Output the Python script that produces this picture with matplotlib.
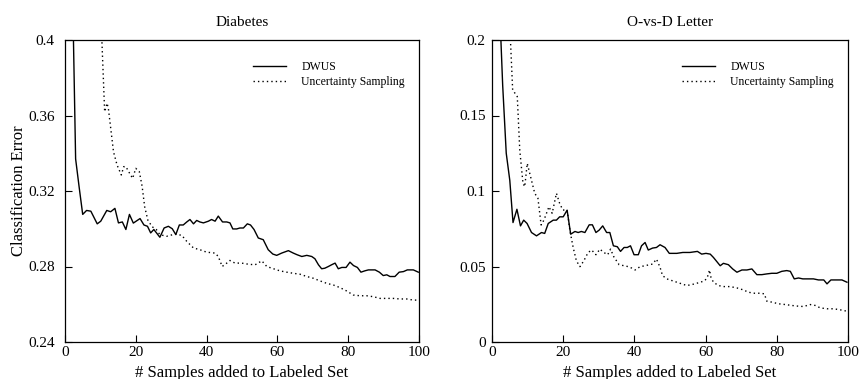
import matplotlib
matplotlib.use('Agg')
import matplotlib.pyplot as plt
from matplotlib.ticker import FuncFormatter

plt.rcParams['font.family'] = ['Liberation Serif', 'DejaVu Serif']

# Diabetes - DWUS
dia_dwus_x = [2, 3, 4, 5, 6.1, 7.3, 9.1, 10.1, 11.8, 12.9, 14.1, 15.1, 16.2, 17.2, 18.2,
              19.3, 21.2, 22.3, 23.3, 24.2, 25.1, 26.8, 28, 29.2, 30.3, 31.3, 32.3, 33.4,
              34.4, 35.3, 36.3, 37.2, 38.1, 39.1, 40.5, 41.4, 42.4, 43.3, 44.5, 45.7, 46.6,
              47.4, 48.5, 49.4, 50.4, 51.5, 52.4, 53.4, 54.6, 56, 57.4, 58.7, 59.8, 61.2,
              63.1, 64.5, 65.6, 66.9, 68.3, 69.7, 70.6, 71.6, 72.5, 73.4, 74.4, 75.3, 76.3,
              77.2, 78.2, 79.4, 80.5, 81.5, 82.6, 83.6, 84.7, 85.7, 87.6, 88.8, 89.9, 90.9,
              91.8, 93.2, 94.4, 95.6, 96.7, 98.4, 99.8]
dia_dwus_y = [0.44, 0.337, 0.322, 0.3076, 0.3097, 0.3093, 0.3026, 0.304, 0.3097, 0.309,
              0.3108, 0.3031, 0.3036, 0.2996, 0.3076, 0.303, 0.3054, 0.302, 0.3013, 0.2978,
              0.2996, 0.2955, 0.3004, 0.3013, 0.300, 0.2969, 0.302, 0.302, 0.3036, 0.3049,
              0.3026, 0.3044, 0.3036, 0.3031, 0.304, 0.3049, 0.304, 0.3067, 0.3036, 0.3036,
              0.3031, 0.2999, 0.2999, 0.3004, 0.3004, 0.3026, 0.302, 0.2996, 0.2951, 0.2942,
              0.2889, 0.2866, 0.2859, 0.2871, 0.2884, 0.2871, 0.2862, 0.2853, 0.2859, 0.2853,
              0.2841, 0.2809, 0.2788, 0.2791, 0.28, 0.2809, 0.2818, 0.2788, 0.2795, 0.2795,
              0.2823, 0.2805, 0.2795, 0.277, 0.2777, 0.2782, 0.2782, 0.277, 0.2752, 0.2756,
              0.2747, 0.2747, 0.277, 0.2773, 0.2782, 0.2782, 0.277]

# Diabetes - Uncertainty Sampling
dia_us_x = [10, 11.2, 11.9, 12.3, 13.7, 14.7, 15.9, 16.6, 17.2, 18, 19.1, 20, 21, 21.8,
            22.5, 23.4, 24.6, 25.8, 26.8, 28.7, 31.1, 33, 34.4, 36.3, 38.1, 40, 42.4, 43.3,
            44.4, 45.7, 46.6, 48, 49.9, 51.8, 53.7, 55.6, 57, 58.9, 60.7, 62.6, 64.5, 66.4,
            68.3, 70.1, 72, 73.9, 75.8, 77.7, 79.6, 81.4, 83.3, 85.2, 87.1, 89, 90.9, 92.7,
            94.6, 96.5, 98.4, 100]
dia_us_y = [0.42, 0.362, 0.3665, 0.363, 0.3408, 0.3338, 0.3285, 0.3329, 0.3329, 0.3302,
            0.3267, 0.332, 0.3302, 0.3223, 0.3117, 0.3046, 0.3011, 0.2996, 0.2969, 0.296,
            0.2972, 0.2965, 0.2933, 0.2898, 0.2889, 0.2876, 0.2871, 0.2853, 0.28, 0.2818,
            0.2832, 0.2818, 0.2818, 0.2812, 0.2809, 0.283, 0.28, 0.2788, 0.2777, 0.277,
            0.2764, 0.2759, 0.2747, 0.2738, 0.2724, 0.2711, 0.2702, 0.2688, 0.267, 0.2649,
            0.2645, 0.2645, 0.264, 0.2631, 0.2631, 0.2631, 0.2628, 0.2628, 0.2622, 0.2622]

# O-vs-D Letter - DWUS
let_dwus_x = [2, 3, 4, 5, 5.9, 7.0, 8.0, 8.9, 9.85, 11.1, 12.5, 13.9, 14.8, 15.8, 17.2,
              18.1, 19, 20, 21.1, 22.1, 23.3, 24.2, 25.1, 26.1, 27.3, 28.2, 29.2, 30.1,
              31.1, 32.2, 33.1, 34.1, 35.2, 36.1, 37.1, 38, 38.9, 39.9, 41.1, 42, 43, 43.9,
              45.1, 46.2, 47.2, 48.6, 49.8, 51.9, 53.6, 55.6, 57.7, 58.9, 60.1, 61.3, 62.2,
              63.1, 64.1, 65, 66.4, 67.6, 68.8, 70.2, 71.6, 73, 74.4, 75.8, 77.2, 78.6, 80,
              81.4, 82.8, 83.8, 84.9, 86.1, 87.3, 88.9, 90.3, 91.7, 93.2, 94.1, 95.2, 96.9,
              98.3, 99.7]
let_dwus_y = [0.23, 0.17, 0.125, 0.107, 0.0791, 0.0879, 0.0769, 0.0807, 0.0785, 0.0725,
              0.0703, 0.0725, 0.0719, 0.0785, 0.0807, 0.0807, 0.0829, 0.0829, 0.0873, 0.0714,
              0.0732, 0.0725, 0.0732, 0.0725, 0.0776, 0.0776, 0.0725, 0.0741, 0.0769, 0.0725,
              0.0725, 0.0637, 0.0631, 0.06, 0.0626, 0.0626, 0.0637, 0.0578, 0.0578, 0.0637,
              0.0659, 0.0609, 0.0622, 0.0626, 0.0644, 0.0626, 0.0587, 0.0587, 0.0593, 0.0593,
              0.06, 0.0582, 0.0587, 0.0582, 0.056, 0.0534, 0.0505, 0.0521, 0.0512, 0.0484,
              0.0462, 0.0477, 0.0477, 0.0484, 0.0446, 0.0446, 0.0451, 0.0455, 0.0455, 0.0468,
              0.0473, 0.0468, 0.0418, 0.0424, 0.0418, 0.0418, 0.0418, 0.0411, 0.0411, 0.0385,
              0.0411, 0.0411, 0.0411, 0.0396]

# O-vs-D Letter - Uncertainty Sampling
let_us_x = [4.9, 5.8, 7.1, 7.8, 8.7, 9.2, 9.9, 10.6, 12, 12.9, 13.8, 14.6, 16, 16.9, 18.1,
            19, 19.9, 21.1, 21.9, 22.8, 23.7, 24.7, 25.8, 27, 28, 29.2, 30.3, 31.4, 32.5,
            33.3, 34.2, 35.7, 37.1, 38.3, 39.2, 40.2, 41.6, 43, 44.2, 45.1, 46.2, 47.2, 47.9,
            49.1, 50.5, 51.9, 53.3, 54.7, 56.1, 57.5, 58.6, 59.8, 60.5, 61.1, 61.5, 62.2,
            63.6, 65, 66.9, 68.8, 70.6, 72, 73.5, 75.3, 76.5, 77.2, 78.6, 80.5, 82.4, 84.2,
            86.1, 87.5, 89.4, 90.8, 92.2, 94.1, 96, 97.8, 99.7]
let_us_y = [0.215, 0.167, 0.1625, 0.127, 0.1051, 0.1029, 0.1183, 0.1117, 0.0985, 0.0952,
            0.0775, 0.0808, 0.0896, 0.0852, 0.0985, 0.0918, 0.0874, 0.0874, 0.0736, 0.0626,
            0.0538, 0.0499, 0.0538, 0.0593, 0.0609, 0.0578, 0.0615, 0.0593, 0.0578, 0.0615,
            0.0565, 0.0512, 0.0505, 0.0499, 0.049, 0.0477, 0.0499, 0.0505, 0.0512, 0.0516,
            0.0549, 0.0495, 0.044, 0.0418, 0.0407, 0.0396, 0.0385, 0.0374, 0.038, 0.0389,
            0.0396, 0.0407, 0.0429, 0.0477, 0.0429, 0.0396, 0.0374, 0.0367, 0.0367, 0.0358,
            0.0345, 0.033, 0.0323, 0.0323, 0.0319, 0.027, 0.0264, 0.0253, 0.0248, 0.0242,
            0.0237, 0.0235, 0.0248, 0.0242, 0.0226, 0.022, 0.022, 0.0213, 0.0204]

dia_yticks = [0.24, 0.28, 0.32, 0.36, 0.4]
let_yticks = [0, 0.05, 0.1, 0.15, 0.2]
xticks = [0, 20, 40, 60, 80, 100]

fig = plt.figure(figsize=(8.59, 3.79), dpi=100)
ax1 = fig.add_axes([65 / 859, 1 - 342 / 379, 354 / 859, 302 / 379])
ax2 = fig.add_axes([492 / 859, 1 - 342 / 379, 356 / 859, 302 / 379])

panels = [
    (ax1, 'Diabetes', dia_dwus_x, dia_dwus_y, dia_us_x, dia_us_y, dia_yticks, 7.5),
    (ax2, 'O-vs-D Letter', let_dwus_x, let_dwus_y, let_us_x, let_us_y, let_yticks, 4.5),
]

for ax, title, dx, dy, ux, uy, yt, ypad in panels:
    ax.plot(dx, dy, color='black', lw=1.0, label='DWUS')
    ax.plot(ux, uy, color='black', lw=1.0, linestyle=(0, (1, 2.2)),
            label='Uncertainty Sampling')
    ax.set_xlim(0, 100)
    ax.set_ylim(yt[0], yt[-1])
    ax.set_xticks(xticks)
    ax.set_yticks(yt)
    ax.yaxis.set_major_formatter(FuncFormatter(lambda v, p: '%g' % v))
    ax.tick_params(direction='in', length=5, width=0.8, labelsize=11,
                   top=False, right=False)
    ax.tick_params(axis='x', pad=3)
    ax.tick_params(axis='y', pad=ypad)
    for s in ax.spines.values():
        s.set_linewidth(0.9)
    ax.set_title(title, fontsize=11, pad=10)
    ax.set_xlabel('# Samples added to Labeled Set', fontsize=12, labelpad=4)
    ax.legend(loc='upper right', bbox_to_anchor=(0.99, 0.965), frameon=False,
              fontsize=8.5, handlelength=2.8, handletextpad=1.3, labelspacing=0.25)

ax1.set_ylabel('Classification Error', fontsize=12, labelpad=1)

fig.savefig('out.png', dpi=100)
